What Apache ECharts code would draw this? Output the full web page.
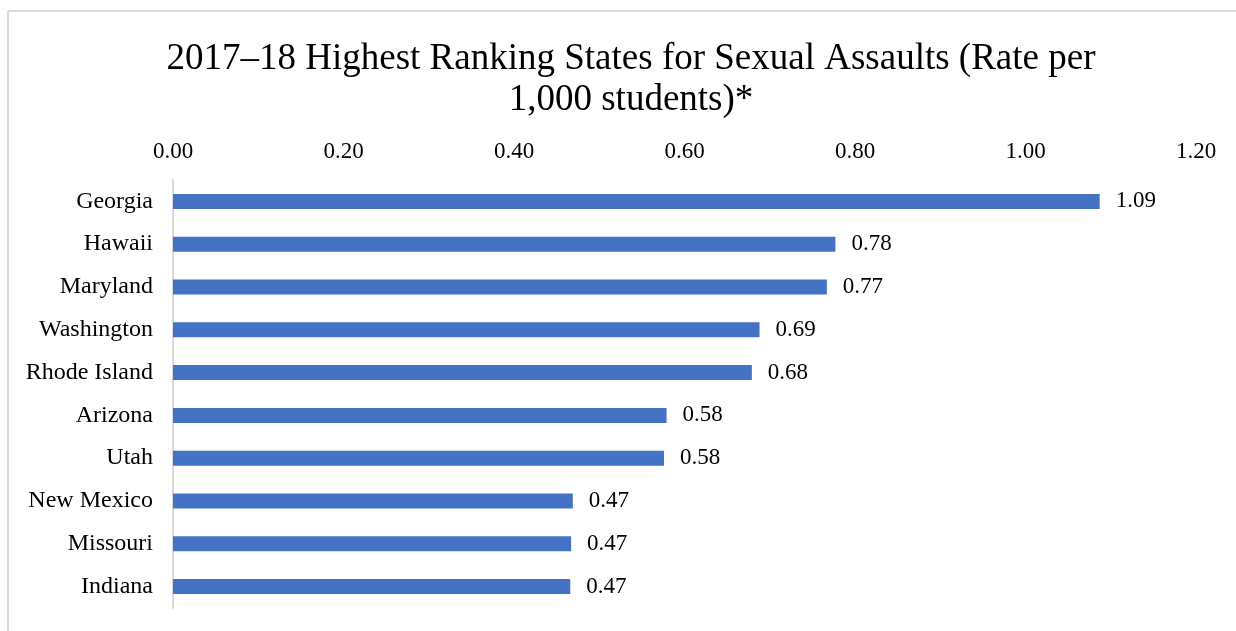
<!DOCTYPE html>
<html>
<head>
<meta charset="utf-8">
<script src="https://cdn.jsdelivr.net/npm/echarts@6/dist/echarts.min.js"></script>
<style>
html,body{margin:0;padding:0;background:#fff;}
#chart{width:1236px;height:631px;}
</style>
</head>
<body>
<div id="chart"></div>
<script>
const titleText = "2017\u201318 Highest Ranking States for Sexual Assaults (Rate per\n1,000 students)*";
const states = ["Georgia","Hawaii","Maryland","Washington","Rhode Island","Arizona","Utah","New Mexico","Missouri","Indiana"];
const rates = [1.087, 0.777, 0.767, 0.688, 0.679, 0.579, 0.576, 0.469, 0.467, 0.466];
const axisTicks = [0, 1.2, 0.2];

const FONT = "'Liberation Serif', 'Times New Roman', serif";
const chart = echarts.init(document.getElementById('chart'));
chart.setOption({
  backgroundColor: '#ffffff',
  animation: false,
  title: {
    text: titleText,
    left: 626,
    top: 34,
    textAlign: 'center',
    textStyle: { fontFamily: FONT, fontSize: 37, fontWeight: 'normal', color: '#000', lineHeight: 41 }
  },
  graphic: [
    { type: 'line', shape: { x1: 8, y1: 11, x2: 1236, y2: 11 }, style: { stroke: '#d9d9d9', lineWidth: 2 } },
    { type: 'line', shape: { x1: 8, y1: 11, x2: 8, y2: 631 }, style: { stroke: '#d9d9d9', lineWidth: 2 } }
  ],
  grid: { left: 173, right: 40, top: 180, bottom: 23, containLabel: false },
  xAxis: {
    type: 'value',
    position: 'top',
    min: axisTicks[0], max: axisTicks[1], interval: axisTicks[2],
    axisLine: { show: false },
    axisTick: { show: false },
    splitLine: { show: false },
    axisLabel: {
      margin: 17,
      fontFamily: FONT, fontSize: 23, color: '#000',
      formatter: v => v.toFixed(2)
    }
  },
  yAxis: {
    type: 'category',
    data: states,
    inverse: true,
    axisLine: { show: true, lineStyle: { color: '#d9d9d9', width: 2 } },
    axisTick: { show: false },
    axisLabel: { margin: 20, fontFamily: FONT, fontSize: 24, color: '#000' }
  },
  series: [{
    type: 'bar',
    data: rates,
    barWidth: 15,
    itemStyle: { color: '#4472c4' },
    label: {
      show: true, position: 'right', distance: 16,
      fontFamily: FONT, fontSize: 23, color: '#000',
      formatter: p => p.value.toFixed(2)
    }
  }]
});
</script>
</body>
</html>
